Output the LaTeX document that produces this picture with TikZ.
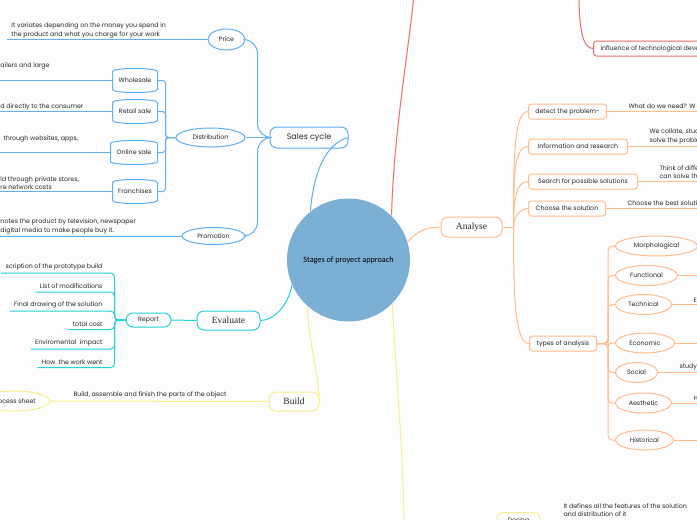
\documentclass[tikz,border=0pt]{standalone}
\usepackage{fontspec}
\setmainfont{Poppins}
\newfontfamily\topicfont{Liberation Serif}
\newfontfamily\centrefont{Carlito}
\usetikzlibrary{shapes.geometric, positioning, calc}

\definecolor{pageBg}{RGB}{253,253,253}
\definecolor{inkGrey}{RGB}{40,40,40}
\definecolor{centreBlue}{RGB}{124,175,212}
\definecolor{salesBlue}{RGB}{96,176,243}
\definecolor{evalCyan}{RGB}{38,208,218}
\definecolor{buildYellow}{RGB}{247,239,140}
\definecolor{analyseOrange}{RGB}{255,188,140}
\definecolor{techRed}{RGB}{243,108,108}

% outline with bulged top and bottom (distribution channels)
\newcommand\tubeOutline[2]{%
  \draw[#2] (#1.south west) -- (#1.north west)
    .. controls ([yshift=4pt]#1.north west) and ([yshift=4pt]#1.north east) .. (#1.north east)
    -- (#1.south east)
    .. controls ([yshift=-4pt]#1.south east) and ([yshift=-4pt]#1.south west) .. (#1.south west) -- cycle;}

\begin{document}
\begin{tikzpicture}[
    x=1pt, y=-1pt,
    font=\fontsize{6.3}{8.8}\selectfont,
    text=inkGrey,
    line width=1pt,
    centreNode/.style={circle, fill=centreBlue, minimum size=123pt, inner sep=0pt, text=black, font=\centrefont\fontsize{8.2}{9}\selectfont},
    topicBox/.style={draw, fill=pageBg, rounded corners=7pt, inner sep=0pt, font=\topicfont\fontsize{9.5}{11}\selectfont},
    subEllipse/.style={draw, fill=pageBg, ellipse, inner sep=0pt},
    subBox/.style={draw, fill=pageBg, rounded corners=3pt, inner sep=0pt, minimum height=15pt},
    tubeNode/.style={inner sep=0pt, minimum width=44pt, minimum height=17pt},
    noteText/.style={align=left, inner xsep=4pt, inner ysep=2.5pt, anchor=south west},
    leafText/.style={inner xsep=4pt, inner ysep=2.5pt, anchor=south east},
    salesLine/.style={draw=salesBlue},
    evalLine/.style={draw=evalCyan},
    buildLine/.style={draw=buildYellow},
    analyseLine/.style={draw=analyseOrange},
    techLine/.style={draw=techRed}
]
    \useasboundingbox (0,0) rectangle (697,520);
    \clip (0,0) rectangle (697,520);
    \fill[pageBg] (0,0) rectangle (697,520);
    \coordinate (edgeL) at (-10,0);
    \coordinate (edgeR) at (720,0);

    % Centre
    \node[centreNode] (centre) at (348.5,260) {Stages of proyect approach};

    % Sales cycle
    \node[topicBox, salesLine, minimum width=78pt, minimum height=21pt, font=\fontsize{8}{9}\selectfont] (sales) at (309,137.5) {Sales cycle};
    \node[subEllipse, salesLine, minimum width=37pt, minimum height=21pt] (price) at (226.5,39.5) {Price};
    \node[subEllipse, salesLine, minimum width=69pt, minimum height=19pt] (dist) at (210.5,137.5) {Distribution};
    \node[subEllipse, salesLine, minimum width=63pt, minimum height=17pt] (promo) at (213.5,236) {Promotion};

    \node[tubeNode] (whole) at (135,80.5) {Wholesale};
    \node[tubeNode] (retail) at (135,111.5) {Retail sale};
    \node[tubeNode, minimum width=46pt] (online) at (134,152.5) {Online sale};
    \node[tubeNode] (fran) at (135,191.5) {Franchises};
    \foreach \n in {whole, retail, online, fran} {
        \tubeOutline{\n}{salesLine}
        \draw[salesLine, rounded corners=3pt] (dist.west) -- ++(-10,0) |- (\n.east);
    }

    \node[noteText] (priceNote) at (7,41) {It variates depending on the money you spend in\\the product and what you charge for your work};
    \node[noteText] (wholeNote) at (-4,72) {ailers and large};
    \node[noteText] (retailNote) at (-4,113) {d directly to the consumer};
    \node[noteText] (onlineNote) at (-1,145) {through websites, apps,};
    \node[noteText] (franNote) at (-4,193) {ld through private stores,\\re network costs};
    \node[noteText] (promoNote) at (-4,237) {notes the product by television, newspaper\\digital media to make people buy it.};

    \draw[salesLine] (centre.128) .. controls +(4,-45) and +(-20,5) .. (sales.east);
    \draw[salesLine, rounded corners=14pt] (sales.west) -- ++(-12,0) |- (price.east);
    \draw[salesLine, rounded corners=14pt] (sales.west) -- ++(-12,0) |- (promo.east);
    \draw[salesLine] (sales.west) -- (dist.east);
    \draw[salesLine] (price.west) -- (price.west -| priceNote.west);
    \foreach \n in {whole, retail, online, fran, promo}
        \draw[salesLine] (\n.west) -- (\n.west -| edgeL);

    % Evaluate
    \node[topicBox, evalLine, minimum width=63pt, minimum height=19pt] (eval) at (228.5,320.5) {Evaluate};
    \node[topicBox, evalLine, minimum width=45pt, minimum height=14pt, font=\fontsize{6.3}{8}\selectfont] (report) at (148.5,320) {Report};
    \draw[evalLine] (centre.204) .. controls +(-4,22) and +(12,0) .. (eval.east);
    \draw[evalLine] (eval.west) -- (report.east);
    \foreach \y/\name/\txt in {273/descr/scription of the prototype build,
        292/mods/List of modifications,
        311/drawing/Final drawing of the solution,
        329.5/cost/total cost,
        349/impact/Enviromental~ impact,
        367.5/went/How~ the work went} {
        \node[leafText] (\name) at (107,\y) {\txt};
        \draw[evalLine, rounded corners=4pt] (report.west) -- ++(-11,0) |- (\name.south east) -- (\name.south west);
    }

    % Build
    \node[topicBox, buildLine, minimum width=50pt, minimum height=19pt] (build) at (294,401.5) {Build};
    \node[subEllipse, buildLine, minimum width=72pt, minimum height=20pt] (procSheet) at (14,401) {Process sheet};
    \node[noteText] (buildNote) at (69,401) {Build, assemble and finish the parts of the object};
    \draw[buildLine] (centre.228) .. controls +(4,50) and +(-3,-40) .. (build.east);
    \draw[buildLine] (build.west) -- (procSheet.east);

    % Design
    \coordinate (designEnd) at (404,535);
    \node[topicBox, buildLine, rounded corners=6pt, minimum width=43pt, minimum height=16pt, font=\fontsize{6.4}{8}\selectfont] (design) at (518.5,520.5) {Desing};
    \node[noteText] (designNote) at (559,520) {It defines all the features of the solution\\and distribution of it};
    \draw[buildLine] (centre.315) .. controls +(4,80) and +(0,-80) .. (designEnd);
    \draw[buildLine] (design.east) -- (design.east -| edgeR);

    % Analyse
    \node[topicBox, analyseLine, minimum width=61pt, minimum height=20pt] (analyse) at (471.5,227) {Analyse};
    \node[subBox, analyseLine, anchor=west, minimum width=78pt] (detect) at (528,111.5) {detect the problem-};
    \node[subBox, analyseLine, anchor=west, minimum width=99pt] (info) at (528,146.5) {Information and research};
    \node[subBox, analyseLine, anchor=west, minimum width=109pt] (search) at (528,181.5) {Search for possible solutions};
    \node[subBox, analyseLine, anchor=west, minimum width=77pt] (choose) at (528,208.5) {Choose the solution};
    \node[subBox, analyseLine, anchor=west, minimum width=67pt] (types) at (529,343.5) {types of analysis};

    \draw[analyseLine] (centre.17) .. controls +(10,-12) and +(-12,0) .. (analyse.west);
    \draw[analyseLine] (analyse.east) -- ++(11,0) coordinate (anFork);
    \draw[analyseLine] (anFork) .. controls +(0,-70) and +(-14,0) .. (detect.west);
    \draw[analyseLine] (anFork) .. controls +(0,-50) and +(-14,0) .. (info.west);
    \draw[analyseLine] (anFork) .. controls +(0,-28) and +(-12,0) .. (search.west);
    \draw[analyseLine] (anFork) .. controls +(0,-10) and +(-8,0) .. (choose.west);
    \draw[analyseLine] (anFork) .. controls +(0,70) and +(-14,0) .. (types.west);

    \node[noteText] (detectNote) at (624,112) {What do we need? W};
    \node[noteText] (infoNote) at (645,147) {We collate, study\\solve the problem};
    \node[noteText] (searchNote) at (655,182) {Think of different\\can solve the};
    \node[noteText] (chooseNote) at (623,209) {Choose the best solution};
    \foreach \n in {detect, info, search, choose}
        \draw[analyseLine] (\n.east) -- (\n.east -| edgeR);

    \foreach \y/\name/\txt/\w in {246/morph/Morphological/82,
        275.5/func/Functional/62,
        304.5/tech/Technical/56,
        343/econ/Economic/59,
        372.5/social/Social/42,
        403/aesth/Aesthetic/56,
        440/hist/Historical/58} {
        \node[subEllipse, analyseLine, anchor=west, minimum width=\w pt, minimum height=20pt] (\name) at (615,\y) {\txt};
        \draw[analyseLine, rounded corners=4pt] (types.east) -- ++(11,0) |- (\name.west);
    }
    \foreach \n in {func, tech, econ, social, aesth, hist}
        \draw[analyseLine] (\n.east) -- (\n.east -| edgeR);
    \node[noteText] (techNote) at (689,305) {E};
    \node[noteText] (socialNote) at (675,373) {study};
    \node[noteText] (aesthNote) at (689,403.5) {H};

    % Technology branch (top)
    \coordinate (redTop) at (414,-5);
    \coordinate (influenceTop) at (579,-5);
    \node[subBox, techLine, anchor=west, inner xsep=7pt] (influence) at (593,48.5) {influence of technological development};
    \draw[techLine] (centre.46) .. controls +(2,-80) and +(-6,60) .. (redTop);
    \draw[techLine] (influenceTop) .. controls +(0,35) and +(-10,0) .. (influence.west);
\end{tikzpicture}
\end{document}
